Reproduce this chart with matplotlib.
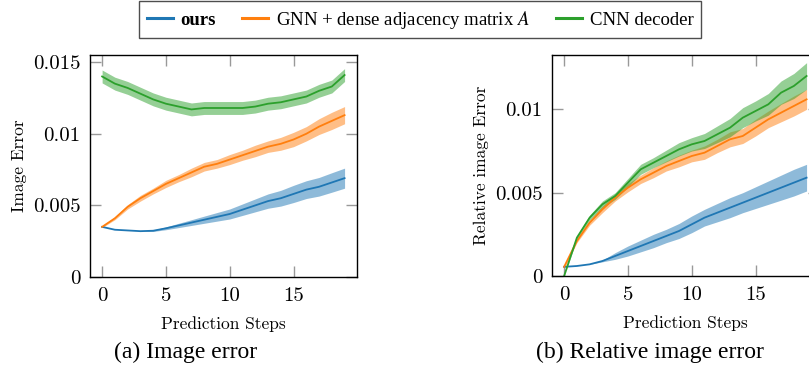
import matplotlib
matplotlib.use("Agg")
import matplotlib.pyplot as plt
from matplotlib.lines import Line2D
import numpy as np

steps = np.arange(20)

# (a) image error: mean and band half-width
img_ours = [0.0035, 0.0033, 0.00325, 0.0032, 0.00323, 0.0034, 0.0036, 0.0038, 0.0040, 0.0042,
            0.0044, 0.0047, 0.0050, 0.0053, 0.0055, 0.0058, 0.0061, 0.0063, 0.0066, 0.0069]
img_ours_sd = [0.0, 0.0, 0.0, 0.0, 0.00005, 0.0001, 0.00015, 0.0002, 0.00025, 0.0003,
               0.00035, 0.0004, 0.00045, 0.0005, 0.00055, 0.0006, 0.00062, 0.00065, 0.00068, 0.0007]
img_gnn = [0.0035, 0.0041, 0.0049, 0.0055, 0.0060, 0.0065, 0.0069, 0.0073, 0.0077, 0.0079,
           0.0082, 0.0085, 0.0088, 0.0091, 0.0093, 0.0096, 0.0100, 0.0105, 0.0109, 0.0113]
img_gnn_sd = [0.00005, 0.0001, 0.00015, 0.0002, 0.0002, 0.00025, 0.00025, 0.0003, 0.0003, 0.0003,
              0.00035, 0.00035, 0.0004, 0.0004, 0.00045, 0.0005, 0.0005, 0.00055, 0.0006, 0.0006]
img_cnn = [0.0140, 0.0135, 0.0132, 0.0128, 0.0124, 0.0121, 0.0119, 0.0117, 0.0118, 0.0118,
           0.0118, 0.0118, 0.0119, 0.0121, 0.0122, 0.0124, 0.0126, 0.0130, 0.0133, 0.0141]
img_cnn_sd = [0.00045] * 20

# (b) relative image error
rel_ours = [0.00055, 0.0006, 0.0007, 0.0009, 0.0012, 0.0015, 0.0018, 0.0021, 0.0024, 0.0027,
            0.0031, 0.0035, 0.0038, 0.0041, 0.0044, 0.0047, 0.0050, 0.0053, 0.0056, 0.0059]
rel_ours_sd = [0.0, 0.0, 0.0, 0.00005, 0.0002, 0.0003, 0.00035, 0.0004, 0.0004, 0.00045,
               0.0005, 0.0005, 0.00055, 0.0006, 0.0006, 0.00065, 0.0007, 0.00075, 0.0008, 0.0008]
rel_gnn = [0.00055, 0.0021, 0.0032, 0.0040, 0.0047, 0.0053, 0.0058, 0.0062, 0.0066, 0.0069,
           0.0072, 0.0074, 0.0078, 0.0082, 0.0084, 0.0089, 0.0094, 0.0098, 0.0102, 0.0106]
rel_gnn_sd = [0.0001, 0.0001, 0.00015, 0.0002, 0.0002, 0.00025, 0.00025, 0.0003, 0.0003, 0.00035,
              0.00035, 0.0004, 0.0004, 0.00045, 0.00045, 0.0005, 0.0005, 0.00055, 0.0006, 0.0006]
rel_cnn = [0.0, 0.0023, 0.0035, 0.0043, 0.0048, 0.0056, 0.0064, 0.0068, 0.0072, 0.0076,
           0.0079, 0.0081, 0.0085, 0.0089, 0.0095, 0.0099, 0.0103, 0.0110, 0.0114, 0.0120]
rel_cnn_sd = [0.0, 0.0001, 0.00015, 0.0002, 0.0002, 0.00025, 0.0003, 0.0003, 0.00035, 0.0004,
              0.0004, 0.00045, 0.0005, 0.00055, 0.0006, 0.0006, 0.00065, 0.0007, 0.00075, 0.0008]

labels = ["ours", "GNN + dense adjacency matrix $A$", "CNN decoder"]
colors = ["#1f77b4", "#ff7f0e", "#2ca02c"]

plt.rcParams["mathtext.fontset"] = "stix"
TICK_FONT = "cmr10"
SERIF = "Liberation Serif"


def style_axis(ax, ylim, yticks, yticklabels):
    ax.set_xlim(-0.95, 19.95)
    ax.set_ylim(*ylim)
    ax.set_xticks([0, 5, 10, 15])
    ax.set_xticklabels(["0", "5", "10", "15"])
    ax.set_yticks(yticks)
    ax.set_yticklabels(yticklabels)
    ax.tick_params(direction="in", length=8, width=1.0, color="#999999",
                   top=True, right=True, labelsize=15, pad=7)
    for lab in ax.get_xticklabels() + ax.get_yticklabels():
        lab.set_fontfamily(TICK_FONT)
    for sp in ax.spines.values():
        sp.set_linewidth(1.0)


def draw(ax, series):
    for (mean, sd), c in zip(series, colors):
        mean = np.array(mean)
        sd = np.array(sd)
        ax.fill_between(steps, mean - sd, mean + sd, color=c, alpha=0.5, lw=0)
        ax.plot(steps, mean, color=c, lw=1.3)


fig = plt.figure(figsize=(8.09, 3.78), dpi=100)
ax1 = fig.add_axes([90 / 809, 1 - 277 / 378, 266.7 / 809, 222 / 378])
ax2 = fig.add_axes([552 / 809, 1 - 276 / 378, 266.7 / 809, 221 / 378])

draw(ax1, [(img_ours, img_ours_sd), (img_gnn, img_gnn_sd), (img_cnn, img_cnn_sd)])
draw(ax2, [(rel_ours, rel_ours_sd), (rel_gnn, rel_gnn_sd), (rel_cnn, rel_cnn_sd)])

style_axis(ax1, (0, 0.0155), [0, 0.005, 0.01, 0.015], ["0", "0.005", "0.01", "0.015"])
style_axis(ax2, (0, 0.01326), [0, 0.005, 0.01], ["0", "0.005", "0.01"])

ax1.set_xlabel("Prediction Steps", fontfamily=TICK_FONT, fontsize=12.5, labelpad=8)
ax2.set_xlabel("Prediction Steps", fontfamily=TICK_FONT, fontsize=12.5, labelpad=8)
ax1.set_ylabel("Image Error", fontfamily=TICK_FONT, fontsize=12.5, labelpad=4)
ax2.set_ylabel("Relative image Error", fontfamily=TICK_FONT, fontsize=12.5, labelpad=4)

fig.text(186 / 809, 1 - 352 / 378, "(a) Image error", ha="center", va="center",
         fontfamily=SERIF, fontsize=17)
fig.text(650 / 809, 1 - 352 / 378, "(b) Relative image error", ha="center", va="center",
         fontfamily=SERIF, fontsize=17)

handles = [Line2D([], [], color=c, lw=2.2) for c in colors]
leg = fig.legend(handles, labels, loc="upper center", bbox_to_anchor=(420 / 809, 0.997),
                 ncol=3, frameon=True, fancybox=False, edgecolor="#222222",
                 prop={"family": SERIF, "size": 13.5}, handlelength=1.4,
                 handletextpad=0.4, columnspacing=1.4, borderpad=0.4,
                 borderaxespad=0.0)
leg.get_frame().set_linewidth(1.0)
leg.get_texts()[0].set_fontweight("bold")

fig.savefig("out.png", dpi=100)
